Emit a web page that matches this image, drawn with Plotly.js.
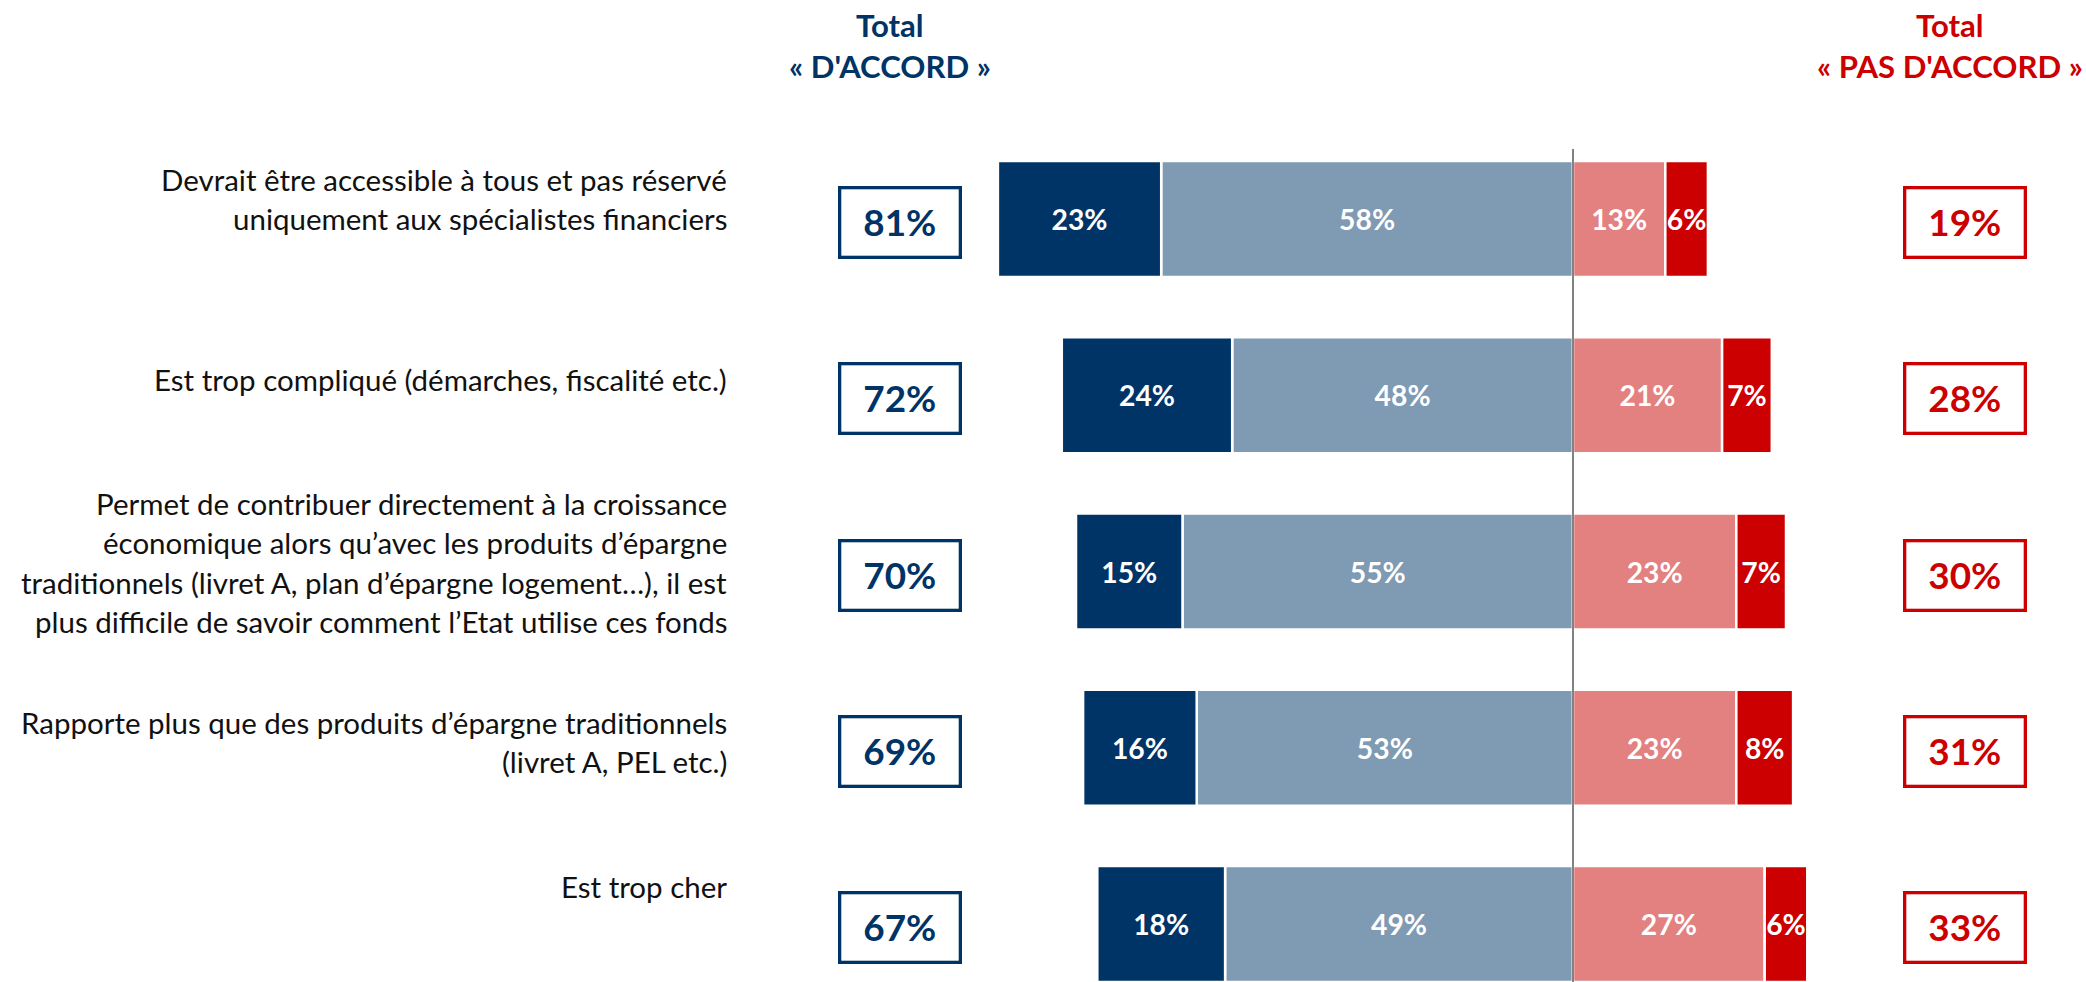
<!DOCTYPE html>
<html>
<head>
<meta charset="utf-8">
<script src="https://cdn.plot.ly/plotly-3.0.1.min.js"></script>
<style>
  html, body { margin: 0; padding: 0; background: #ffffff; }
  #chart { width: 2086px; height: 982px; }
</style>
</head>
<body>
<div id="chart"></div>
<script>
// ---------- DATA ----------
const categories = [
  "Devrait être accessible à tous et pas réservé<br>uniquement aux spécialistes financiers",
  "Est trop compliqué (démarches, fiscalité etc.)",
  "Permet de contribuer directement à la croissance<br>économique alors qu’avec les produits d’épargne<br>traditionnels (livret A, plan d’épargne logement…), il est<br>plus difficile de savoir comment l’Etat utilise ces fonds",
  "Rapporte plus que des produits d’épargne traditionnels<br>(livret A, PEL etc.)",
  "Est trop cher"
];
const seriesNames = ["Tout à fait d'accord", "Plutôt d'accord", "Plutôt pas d'accord", "Pas du tout d'accord"];
const toutAFaitDaccord  = [23, 24, 15, 16, 18];
const plutotDaccord     = [58, 48, 55, 53, 49];
const plutotPasDaccord  = [13, 21, 23, 23, 27];
const pasDuToutDaccord  = [6, 7, 7, 8, 6];
const totalDaccord      = [81, 72, 70, 69, 67];
const totalPasDaccord   = [19, 28, 30, 31, 33];
const headerDaccord     = ["Total", "« D'ACCORD »"];
const headerPasDaccord  = ["Total", "« PAS D'ACCORD »"];

// ---------- STYLE ----------
const W = 2086, H = 982;
const FONT = "Lato";
const NAVY = "#003366", LIGHT = "#7F9AB3", SALMON = "#E38080", RED = "#CC0000";
const TEXT = "#111111";

const ctx = document.createElement("canvas").getContext("2d");
function fit(text, weight, target) {
  ctx.font = weight + " 100px " + FONT;
  return 100 * target / ctx.measureText(text).width;
}
const labelSize  = fit("Devrait être accessible à tous et pas réservé", "normal", 566);
const boxSize    = fit("81%", "bold", 73);
const barSize    = fit("23%", "bold", 56);
const headerSize = fit("« D'ACCORD »", "bold", 202);

const pxPerUnit = 7.1, zeroPx = 1573;
const xRange = [-zeroPx / pxPerUnit, (W - zeroPx) / pxPerUnit];
const firstCenterPx = 219, stepPx = 176.25;
const yRange = [(H - firstCenterPx) / stepPx, -firstCenterPx / stepPx];

const labelLineSpacing = 39.5;
const labelLift = [20, 16, 9, 6, 38];

function barTrace(vals, sign, name, color) {
  return {
    type: "bar", orientation: "h", name: name,
    y: categories, x: vals.map(v => sign * v),
    text: vals.map(v => v + "%"),
    textposition: "inside", insidetextanchor: "middle",
    textangle: 0, constraintext: "none",
    textfont: { family: FONT, size: barSize, color: "#ffffff", weight: "bold" },
    marker: { color: color, line: { color: "#ffffff", width: 2.5 } },
    hoverinfo: "skip", showlegend: false
  };
}

const data = [
  barTrace(plutotDaccord, -1, seriesNames[1], LIGHT),
  barTrace(toutAFaitDaccord, -1, seriesNames[0], NAVY),
  barTrace(plutotPasDaccord, 1, seriesNames[2], SALMON),
  barTrace(pasDuToutDaccord, 1, seriesNames[3], RED)
];

const annotations = [];
categories.forEach((cat, i) => {
  const lines = cat.split("<br>");
  const n = lines.length;
  lines.forEach((ln, k) => {
    annotations.push({
      text: ln, xref: "paper", x: 729 / W, xanchor: "right", align: "right",
      yref: "y", y: cat, yanchor: "middle",
      yshift: labelLift[i] + ((n - 1) / 2 - k) * labelLineSpacing,
      showarrow: false,
      font: { family: FONT, size: labelSize, color: TEXT }
    });
  });
  [[totalDaccord, 899.5 / W, NAVY], [totalPasDaccord, 1965 / W, RED]].forEach(([arr, xp, col]) => {
    annotations.push({
      text: arr[i] + "%", xref: "paper", x: xp, xanchor: "center",
      yref: "y", y: cat, yanchor: "middle", yshift: -3.5,
      width: 117, height: 66, borderwidth: 3.3, borderpad: 0,
      bordercolor: col, bgcolor: "#ffffff", showarrow: false, valign: "middle",
      font: { family: FONT, size: boxSize, color: col, weight: "bold" }
    });
  });
});

[[headerDaccord, 889.5, NAVY], [headerPasDaccord, 1950, RED]].forEach(([lines, xpx, col]) => {
  lines.forEach((ln, k) => {
    annotations.push({
      text: ln, xref: "paper", x: xpx / W, xanchor: "center",
      yref: "paper", y: 1 - (25.4 + k * 40.3) / H, yanchor: "middle",
      showarrow: false,
      font: { family: FONT, size: headerSize, color: col, weight: "bold" }
    });
  });
});

const layout = {
  width: W, height: H,
  margin: { l: 0, r: 0, t: 0, b: 0, pad: 0 },
  paper_bgcolor: "#ffffff", plot_bgcolor: "#ffffff",
  barmode: "relative", bargap: 1 - 116 / stepPx,
  xaxis: { range: xRange, visible: false, fixedrange: true },
  yaxis: { type: "category", categoryorder: "array", categoryarray: categories,
           range: yRange, visible: false, fixedrange: true },
  annotations: annotations,
  shapes: [{
    type: "line", layer: "above", xref: "x", x0: 0, x1: 0,
    yref: "paper", y0: 0, y1: 1 - 149 / H,
    line: { color: "#595959", width: 1.5 }
  }],
  font: { family: FONT },
  showlegend: false
};

Plotly.newPlot("chart", data, layout, { displayModeBar: false, staticPlot: true });
</script>
</body>
</html>
